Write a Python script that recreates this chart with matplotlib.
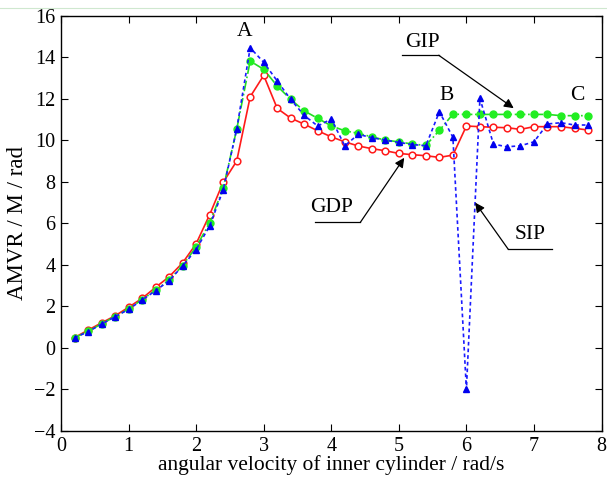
import numpy as np
import matplotlib
matplotlib.use("Agg")
from matplotlib import pyplot as plt
from matplotlib.lines import Line2D

plt.rcParams['font.family'] = ['Liberation Serif', 'DejaVu Serif']

# angular velocity of inner cylinder (rad/s)
omega = [0.2, 0.4, 0.6, 0.8, 1.0, 1.2, 1.4, 1.6, 1.8, 2.0,
         2.2, 2.4, 2.6, 2.8, 3.0, 3.2, 3.4, 3.6, 3.8, 4.0,
         4.2, 4.4, 4.6, 4.8, 5.0, 5.2, 5.4, 5.6, 5.8, 6.0,
         6.2, 6.4, 6.6, 6.8, 7.0, 7.2, 7.4, 7.6, 7.8]

gdp = [0.50, 0.86, 1.21, 1.55, 1.96, 2.39, 2.92, 3.43, 4.10, 5.02,
       6.42, 7.98, 9.00, 12.10, 13.13, 11.54, 11.07, 10.78, 10.46, 10.17,
       9.93, 9.73, 9.60, 9.50, 9.37, 9.31, 9.26, 9.18, 9.29, 10.69,
       10.66, 10.63, 10.61, 10.53, 10.66, 10.66, 10.66, 10.58, 10.50]

gip = [0.49, 0.80, 1.16, 1.51, 1.88, 2.33, 2.78, 3.27, 3.97, 4.87,
       6.02, 7.69, 10.53, 13.82, 13.42, 12.62, 11.97, 11.42, 11.06, 10.70,
       10.46, 10.34, 10.17, 10.01, 9.93, 9.82, 9.76, 10.48, 11.26, 11.25,
       11.25, 11.25, 11.25, 11.25, 11.25, 11.25, 11.19, 11.19, 11.19]

sip = [0.49, 0.78, 1.15, 1.50, 1.86, 2.31, 2.76, 3.24, 3.95, 4.74,
       5.88, 7.61, 10.53, 14.46, 13.76, 12.86, 11.97, 11.20, 10.69, 11.03,
       9.74, 10.29, 10.13, 10.01, 9.90, 9.80, 9.74, 11.38, 10.15, -2.0,
       12.02, 9.82, 9.69, 9.74, 9.93, 10.79, 10.85, 10.74, 10.74]

fig = plt.figure(figsize=(6.07, 4.79), dpi=100)
ax = fig.add_axes([0.1005, 0.1002, 0.8905, 0.8668])

ax.plot(omega, gdp, color='#ff1a1a', lw=1.2, marker='o', ms=4.8,
        mfc='white', mec='#ff1a1a', mew=1.1, zorder=3)
ax.plot(omega, gip, color='#22dd22', lw=1.2, ls='-.', marker='o', ms=5,
        mfc='#22ee22', mec='#22ee22', zorder=4)
ax.plot(omega, sip, color='#1a1aff', lw=1.2, dashes=(2.2, 1.8), marker='^',
        ms=4.5, mfc='#0000ee', mec='#0000ee', zorder=5)

ax.set_xlim(0, 8)
ax.set_ylim(-4, 16)
ax.set_xticks(range(0, 9))
ax.set_yticks(range(-4, 17, 2))
ax.tick_params(direction='in', top=True, right=True, length=5, width=0.8,
               labelsize=14.5, pad=4)
for s in ax.spines.values():
    s.set_linewidth(1.0)

ax.set_xlabel('angular velocity of inner cylinder / rad/s', fontsize=15.5, labelpad=0)
ax.set_ylabel('AMVR / M / rad', fontsize=16.5, labelpad=4)

# peak letters
ax.text(2.72, 15.26, 'A', fontsize=15.5, ha='center', va='center')
ax.text(5.70, 12.18, 'B', fontsize=15.5, ha='center', va='center')
ax.text(7.64, 12.18, 'C', fontsize=15.5, ha='center', va='center')

arrow = dict(arrowstyle='-|>', color='black', lw=0.9,
             mutation_scale=14, shrinkA=0, shrinkB=0)

# GIP callout
ax.text(5.35, 14.73, 'GIP', fontsize=15.5, ha='center', va='center')
ax.plot([5.04, 5.59], [14.1, 14.1], color='black', lw=0.9, zorder=6)
ax.annotate('', xy=(6.70, 11.55), xytext=(5.59, 14.1), arrowprops=arrow, zorder=6)

# GDP callout
ax.text(4.0, 6.75, 'GDP', fontsize=15.5, ha='center', va='center')
ax.plot([3.76, 4.43], [6.05, 6.05], color='black', lw=0.9, zorder=6)
ax.annotate('', xy=(5.08, 9.16), xytext=(4.43, 6.05), arrowprops=arrow, zorder=6)

# SIP callout
ax.text(6.95, 5.45, 'SIP', fontsize=15.5, ha='center', va='center')
ax.plot([6.62, 7.27], [4.75, 4.75], color='black', lw=0.9, zorder=6)
ax.annotate('', xy=(6.13, 7.0), xytext=(6.62, 4.75), arrowprops=arrow, zorder=6)

# faint line at the very top of the image
fig.add_artist(Line2D([0, 1], [0.983, 0.983], color='#cfe8cf', lw=0.8,
                      transform=fig.transFigure))

fig.savefig('out.png', dpi=100)
